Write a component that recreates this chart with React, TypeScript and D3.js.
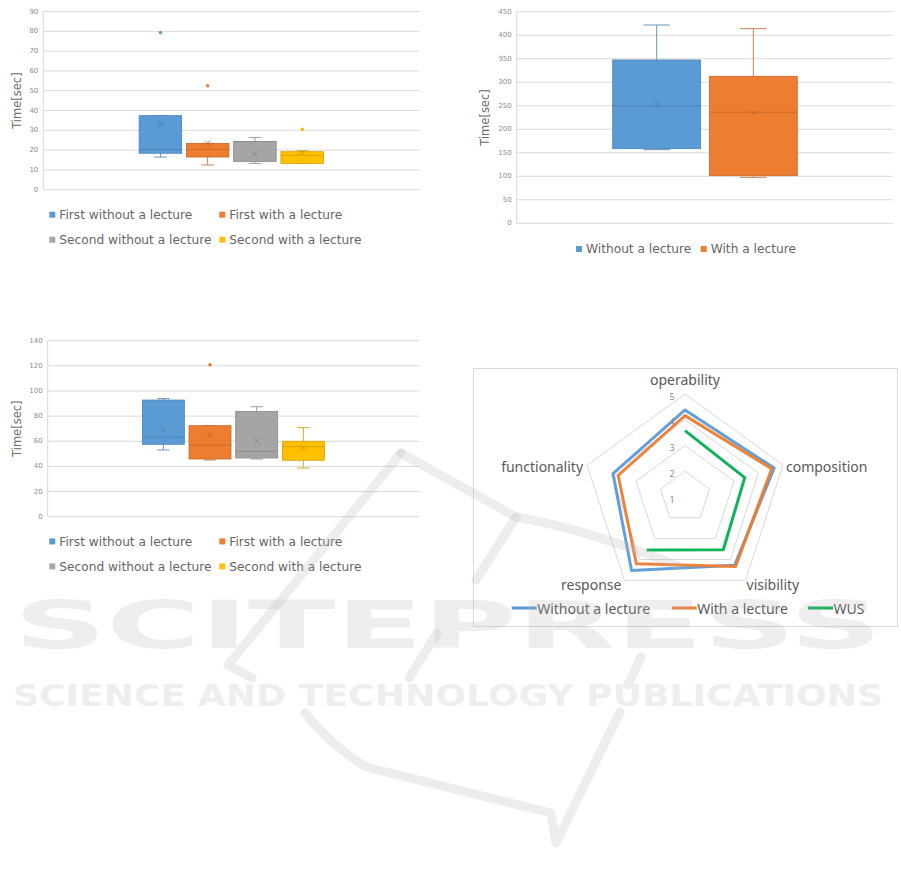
import * as d3 from "d3";

// ---------- data ----------
const SERIES4 = ["First without a lecture", "First with a lecture", "Second without a lecture", "Second with a lecture"];
const COLORS4 = ["#5b9bd5", "#ed7d31", "#a5a5a5", "#ffc000"];
const SERIES2 = ["Without a lecture", "With a lecture"];
const COLORS2 = ["#5b9bd5", "#ed7d31"];

// top-left: first task
const A_TICKS = [0, 10, 20, 30, 40, 50, 60, 70, 80, 90];
const A_LO = [16.5, 12.5, 13.3, 13.3];
const A_Q1 = [18.4, 16.5, 14.3, 13.3];
const A_MED = [20.4, 20.4, 24.3, 17.4];
const A_Q3 = [37.4, 23.4, 24.4, 19.2];
const A_HI = [37.4, 23.4, 26.4, 19.6];
const A_MEAN = [33.0, 23.4, 18.0, 18.7];
const A_OUT = [[79.4], [52.5], [], [30.5]];

// top-right: whole task
const B_TICKS = [0, 50, 100, 150, 200, 250, 300, 350, 400, 450];
const B_LO = [156.6, 97.8];
const B_Q1 = [158.7, 101.3];
const B_MED = [249.5, 236];
const B_Q3 = [347.3, 312.6];
const B_HI = [421.7, 414];
const B_MEAN = [253, 235];
const B_OUT: number[][] = [[], []];

// bottom-left: second task
const C_TICKS = [0, 20, 40, 60, 80, 100, 120, 140];
const C_LO = [53.1, 45.1, 45.9, 38.7];
const C_Q1 = [57.6, 45.9, 46.7, 44.9];
const C_MED = [63.2, 56.8, 52.0, 55.7];
const C_Q3 = [92.8, 72.4, 83.8, 60.0];
const C_HI = [93.9, 72.4, 87.5, 70.8];
const C_MEAN = [69.5, 65.2, 60.5, 54.9];
const C_OUT = [[], [120.9], [], []];

// radar
const AXES = ["operability", "composition", "visibility", "response", "functionality"];
const RADAR_LEVELS = [1, 2, 3, 4, 5];
const R_WITHOUT = [4.38, 4.64, 4.28, 4.53, 3.94];
const R_WITH = [4.16, 4.54, 4.34, 4.21, 3.73];
const R_WUS: (number | null)[] = [3.58, 3.44, 3.53, 3.54, null];
const RADAR_NAMES = ["Without a lecture", "With a lecture", "WUS"];
const RADAR_COLORS = ["#5b9bd5", "#ed7d31", "#00b050"];

const FONT = "DejaVu Sans";
const TXT = "#595959";

type BoxProps = {
  series: string[]; colors: string[];
  lo: number[]; q1: number[]; med: number[]; q3: number[]; hi: number[]; mean: number[]; out: number[][];
  ticks: number[]; x0: number; x1: number; yBottom: number; yTop: number; titleX: number;
  legendCols: number[]; legendRows: number[]; pad: number;
};

function BoxChart(p: BoxProps) {
  const y = d3.scaleLinear([0, p.ticks[p.ticks.length - 1]], [p.yBottom, p.yTop]);
  const group = d3.scaleBand(["g"], [p.x0, p.x1]).paddingOuter(0.52);
  const gx = group("g")!;
  const x = d3.scaleBand(p.series, [gx, gx + group.bandwidth()]).paddingInner(p.pad);
  const bw = x.bandwidth();
  const cap = bw * 0.3;
  return (
    <g>
      {p.ticks.map((t) => (
        <g key={t}>
          <line x1={p.x0} x2={p.x1} y1={y(t)} y2={y(t)} stroke="#d9d9d9" strokeWidth={1} />
          <text x={p.x0 - 5} y={y(t)} textAnchor="end" dominantBaseline="central"
            fontFamily={FONT} fontSize={7} fill="#8c8c8c">{t}</text>
        </g>
      ))}
      <line x1={p.x0} x2={p.x0} y1={p.yTop} y2={p.yBottom} stroke="#d9d9d9" strokeWidth={1} />
      <text transform={`translate(${p.titleX},${(p.yTop + p.yBottom) / 2}) rotate(-90)`}
        textAnchor="middle" dominantBaseline="central" fontFamily={FONT} fontSize={11.5} fill="#6b6b6b">
        Time[sec]
      </text>
      {p.series.map((s, i) => {
        const c = p.colors[i];
        const bx = x(s)!;
        const cx = bx + bw / 2;
        const wc = d3.interpolateRgb(c, "#8a8a8a")(0.35);
        const dark = d3.color(c)!.darker(0.5).formatHex();
        const mk = d3.color(c)!.darker(0.9).formatHex();
        const m = y(p.mean[i]);
        return (
          <g key={s}>
            <line x1={cx} x2={cx} y1={y(p.hi[i])} y2={y(p.q3[i])} stroke={wc} />
            <line x1={cx} x2={cx} y1={y(p.q1[i])} y2={y(p.lo[i])} stroke={wc} />
            <line x1={cx - cap / 2} x2={cx + cap / 2} y1={y(p.hi[i])} y2={y(p.hi[i])} stroke={wc} />
            <line x1={cx - cap / 2} x2={cx + cap / 2} y1={y(p.lo[i])} y2={y(p.lo[i])} stroke={wc} />
            <rect x={bx} y={y(p.q3[i])} width={bw} height={y(p.q1[i]) - y(p.q3[i])}
              fill={c} stroke={dark} strokeWidth={0.8} />
            <line x1={bx} x2={bx + bw} y1={y(p.med[i])} y2={y(p.med[i])} stroke={dark} strokeWidth={0.9} />
            <path d={`M${cx - 2.7},${m - 2.7}L${cx + 2.7},${m + 2.7}M${cx - 2.7},${m + 2.7}L${cx + 2.7},${m - 2.7}`}
              stroke={mk} strokeWidth={0.8} opacity={0.8} />
            {p.out[i].map((o, j) => (
              <circle key={j} cx={cx} cy={y(o)} r={1.5} fill={c} stroke={dark} strokeWidth={0.4} />
            ))}
          </g>
        );
      })}
      {p.series.map((s, i) => {
        const lx = p.legendCols[i % p.legendCols.length];
        const ly = p.yBottom + p.legendRows[Math.floor(i / p.legendCols.length)];
        return (
          <g key={"lg" + s}>
            <rect x={lx} y={ly - 3.3} width={6} height={6} fill={p.colors[i]} />
            <text x={lx + 10} y={ly} dominantBaseline="central" fontFamily={FONT} fontSize={12.2} fill="#666">{s}</text>
          </g>
        );
      })}
    </g>
  );
}

function Radar() {
  const cx = 685, cy = 497, R = 103;
  const r = d3.scaleLinear([1, 5], [0, R]);
  const ang = (i: number) => (i * 2 * Math.PI) / AXES.length;
  const ring = d3.lineRadial<number>().angle((_, i) => ang(i)).radius((v) => r(v)).curve(d3.curveLinearClosed);
  const vx = (i: number, v: number) => cx + r(v) * Math.sin(ang(i));
  const vy = (i: number, v: number) => cy - r(v) * Math.cos(ang(i));
  const series = [R_WITHOUT, R_WITH, R_WUS];
  const labelPos = [
    { x: cx, y: cy - R - 15, a: "middle" },
    { x: vx(1, 5) + 3, y: vy(1, 5) + 1, a: "start" },
    { x: vx(2, 5) + 1, y: vy(2, 5) + 4, a: "start" },
    { x: vx(3, 5) - 3, y: vy(3, 5) + 4, a: "end" },
    { x: vx(4, 5) - 4, y: vy(4, 5) + 1, a: "end" },
  ];
  const legendX = [511.7, 671.7, 808];
  return (
    <g>
      <rect x={473.5} y={368.5} width={424} height={258} fill="none" stroke="#d9d9d9" />
      <g transform={`translate(${cx},${cy})`}>
        {RADAR_LEVELS.filter((l) => l > 1).map((l) => (
          <path key={l} d={ring(AXES.map(() => l)) ?? ""} fill="none" stroke="#d9d9d9" strokeWidth={1} />
        ))}
        {series.map((d, k) => {
          const hasGap = d.some((v) => v == null);
          const line = d3.lineRadial<number | null>()
            .defined((v) => v != null)
            .angle((_, i) => ang(i))
            .radius((v) => r(v as number))
            .curve(hasGap ? d3.curveLinear : d3.curveLinearClosed);
          return <path key={k} d={line(d) ?? ""} fill="none" stroke={RADAR_COLORS[k]}
            strokeWidth={3} strokeLinejoin="round" opacity={0.95} />;
        })}
      </g>
      {RADAR_LEVELS.map((l) => (
        <text key={l} x={cx - 13} y={cy - r(l) + 2} textAnchor="middle" dominantBaseline="central"
          fontFamily="Noto Sans" fontSize={9} fill="#8c8c8c">{l}</text>
      ))}
      {AXES.map((a, i) => (
        <text key={a} x={labelPos[i].x} y={labelPos[i].y} textAnchor={labelPos[i].a as any}
          dominantBaseline="central" fontFamily="Noto Sans" fontSize={14} fill={TXT}>{a}</text>
      ))}
      {RADAR_NAMES.map((n, i) => (
        <g key={n}>
          <line x1={legendX[i]} x2={legendX[i] + 25} y1={608} y2={608} stroke={RADAR_COLORS[i]} strokeWidth={3} />
          <text x={legendX[i] + 25.5} y={608} dominantBaseline="central" fontFamily="Noto Sans"
            fontSize={14} fill={TXT}>{n}</text>
        </g>
      ))}
    </g>
  );
}

function Watermark() {
  const ink = { fill: "#b4b4b4", opacity: 0.22 };
  const st = { fill: "none", stroke: "#b4b4b4", strokeOpacity: 0.24, strokeWidth: 9, strokeLinejoin: "round" as const, strokeLinecap: "round" as const };
  return (
    <g pointerEvents="none">
      <path {...st} d="M401,453 L228,665 L252,678" />
      <path {...st} d="M401,453 L516,517 Q590,530 678,566" />
      <path {...st} d="M516,517 L476,580 M437,633 L409,678" />
      <path {...st} d="M305,713 Q330,745 366,767 L551,813 L556,843 L620,712 M641,657 L628,685" />
      <text x={14} y={648} textLength={868} lengthAdjust="spacingAndGlyphs" fontFamily="DejaVu Sans"
        fontWeight="bold" fontSize={66} {...ink}>SCITEPRESS</text>
      <text x={13} y={706} textLength={870} lengthAdjust="spacingAndGlyphs" fontFamily="DejaVu Sans"
        fontWeight="bold" fontSize={30} {...ink}>SCIENCE AND TECHNOLOGY PUBLICATIONS</text>
    </g>
  );
}

export default function App() {
  return (
    <div style={{ position: "absolute", left: 0, top: 0 }}>
      <svg width={901} height={879} style={{ display: "block", background: "#fff" }}>
        <BoxChart series={SERIES4} colors={COLORS4} lo={A_LO} q1={A_Q1} med={A_MED} q3={A_Q3} hi={A_HI}
          mean={A_MEAN} out={A_OUT} ticks={A_TICKS} x0={43.3} x1={419.3} yBottom={189.7} yTop={11.5}
          titleX={16.7} legendCols={[49.3, 219.3]} legendRows={[25.3, 50.3]} pad={0.1} />
        <BoxChart series={SERIES2} colors={COLORS2} lo={B_LO} q1={B_Q1} med={B_MED} q3={B_Q3} hi={B_HI}
          mean={B_MEAN} out={B_OUT} ticks={B_TICKS} x0={516.7} x1={893.3} yBottom={223.3} yTop={11.7}
          titleX={485} legendCols={[576, 700.7]} legendRows={[26]} pad={0.09} />
        <BoxChart series={SERIES4} colors={COLORS4} lo={C_LO} q1={C_Q1} med={C_MED} q3={C_Q3} hi={C_HI}
          mean={C_MEAN} out={C_OUT} ticks={C_TICKS} x0={47.7} x1={419} yBottom={516.7} yTop={340.7}
          titleX={16.7} legendCols={[49.3, 219.3]} legendRows={[25, 50]} pad={0.1} />
        <Radar />
        <Watermark />
      </svg>
    </div>
  );
}
